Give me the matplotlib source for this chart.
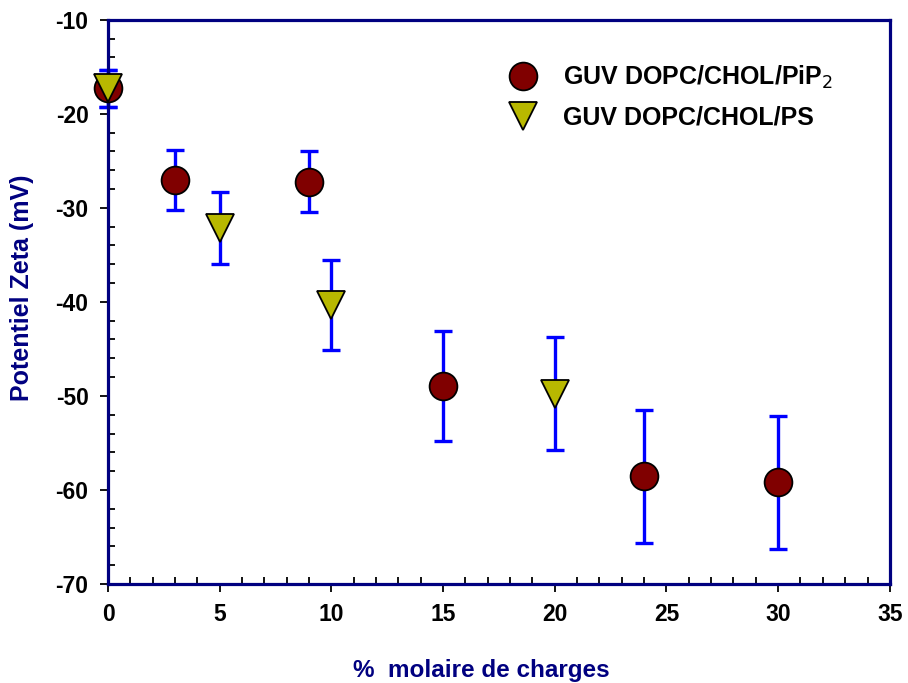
import matplotlib.pyplot as plt
from matplotlib.ticker import MultipleLocator

plt.rcParams['font.family'] = ['Liberation Sans', 'DejaVu Sans']
plt.rcParams['axes.unicode_minus'] = False

# PiP2 series
x_pip2 = [0, 3, 9, 15, 24, 30]
y_pip2 = [-17.3, -27.0, -27.2, -48.9, -58.55, -59.2]
err_pip2 = [2.0, 3.2, 3.25, 5.85, 7.05, 7.1]

# PS series
x_ps = [0, 5, 10, 20]
y_ps = [-17.3, -32.15, -40.3, -49.75]
err_ps = [2.0, 3.85, 4.8, 6.0]

navy = '#000080'
fig = plt.figure(figsize=(9.08, 6.83), dpi=100)
ax = fig.add_axes([0.119, 0.145, 0.861, 0.826])

ax.errorbar(x_pip2, y_pip2, yerr=err_pip2, fmt='none', ecolor='#0000FF',
            elinewidth=2.4, capsize=6.5, capthick=2.4, clip_on=False, zorder=2)
ax.errorbar(x_ps, y_ps, yerr=err_ps, fmt='none', ecolor='#0000FF',
            elinewidth=2.4, capsize=6.5, capthick=2.4, clip_on=False, zorder=2)
ax.plot(x_pip2, y_pip2, 'o', ms=20, mfc='#800000', mec='black', mew=1.3,
        linestyle='none', clip_on=False, zorder=3, label='GUV DOPC/CHOL/PiP$_2$')
ax.plot(x_ps, y_ps, 'v', ms=20, mfc='#B8B800', mec='black', mew=1.3,
        linestyle='none', clip_on=False, zorder=4, label='GUV DOPC/CHOL/PS')

ax.set_xlim(0, 35)
ax.set_ylim(-70, -10)
ax.xaxis.set_major_locator(MultipleLocator(5))
ax.xaxis.set_minor_locator(MultipleLocator(1))
ax.yaxis.set_major_locator(MultipleLocator(10))
ax.yaxis.set_minor_locator(MultipleLocator(2))

for s in ax.spines.values():
    s.set_color(navy)
    s.set_linewidth(2.3)

ax.tick_params(which='major', direction='out', length=6, width=1.3,
               color='black', labelsize=16.5, pad=8)
ax.tick_params(which='minor', direction='in', length=5, width=1.3, color='black')
for lbl in ax.get_xticklabels() + ax.get_yticklabels():
    lbl.set_fontweight('bold')

ax.set_xlabel('%  molaire de charges', color=navy, fontsize=17.5,
              fontweight='bold')
ax.xaxis.set_label_coords(0.478, -0.133)
ax.set_ylabel('Potentiel Zeta (mV)', color=navy, fontsize=18,
              fontweight='bold')
ax.yaxis.set_label_coords(-0.095, 0.525)

leg = ax.legend(loc='upper left', bbox_to_anchor=(0.495, 0.94), frameon=False,
                fontsize=18, handletextpad=0.9, labelspacing=0.6,
                borderaxespad=0, handlelength=1.4)
for t in leg.get_texts():
    t.set_fontweight('bold')

fig.savefig('out.png', dpi=100)
